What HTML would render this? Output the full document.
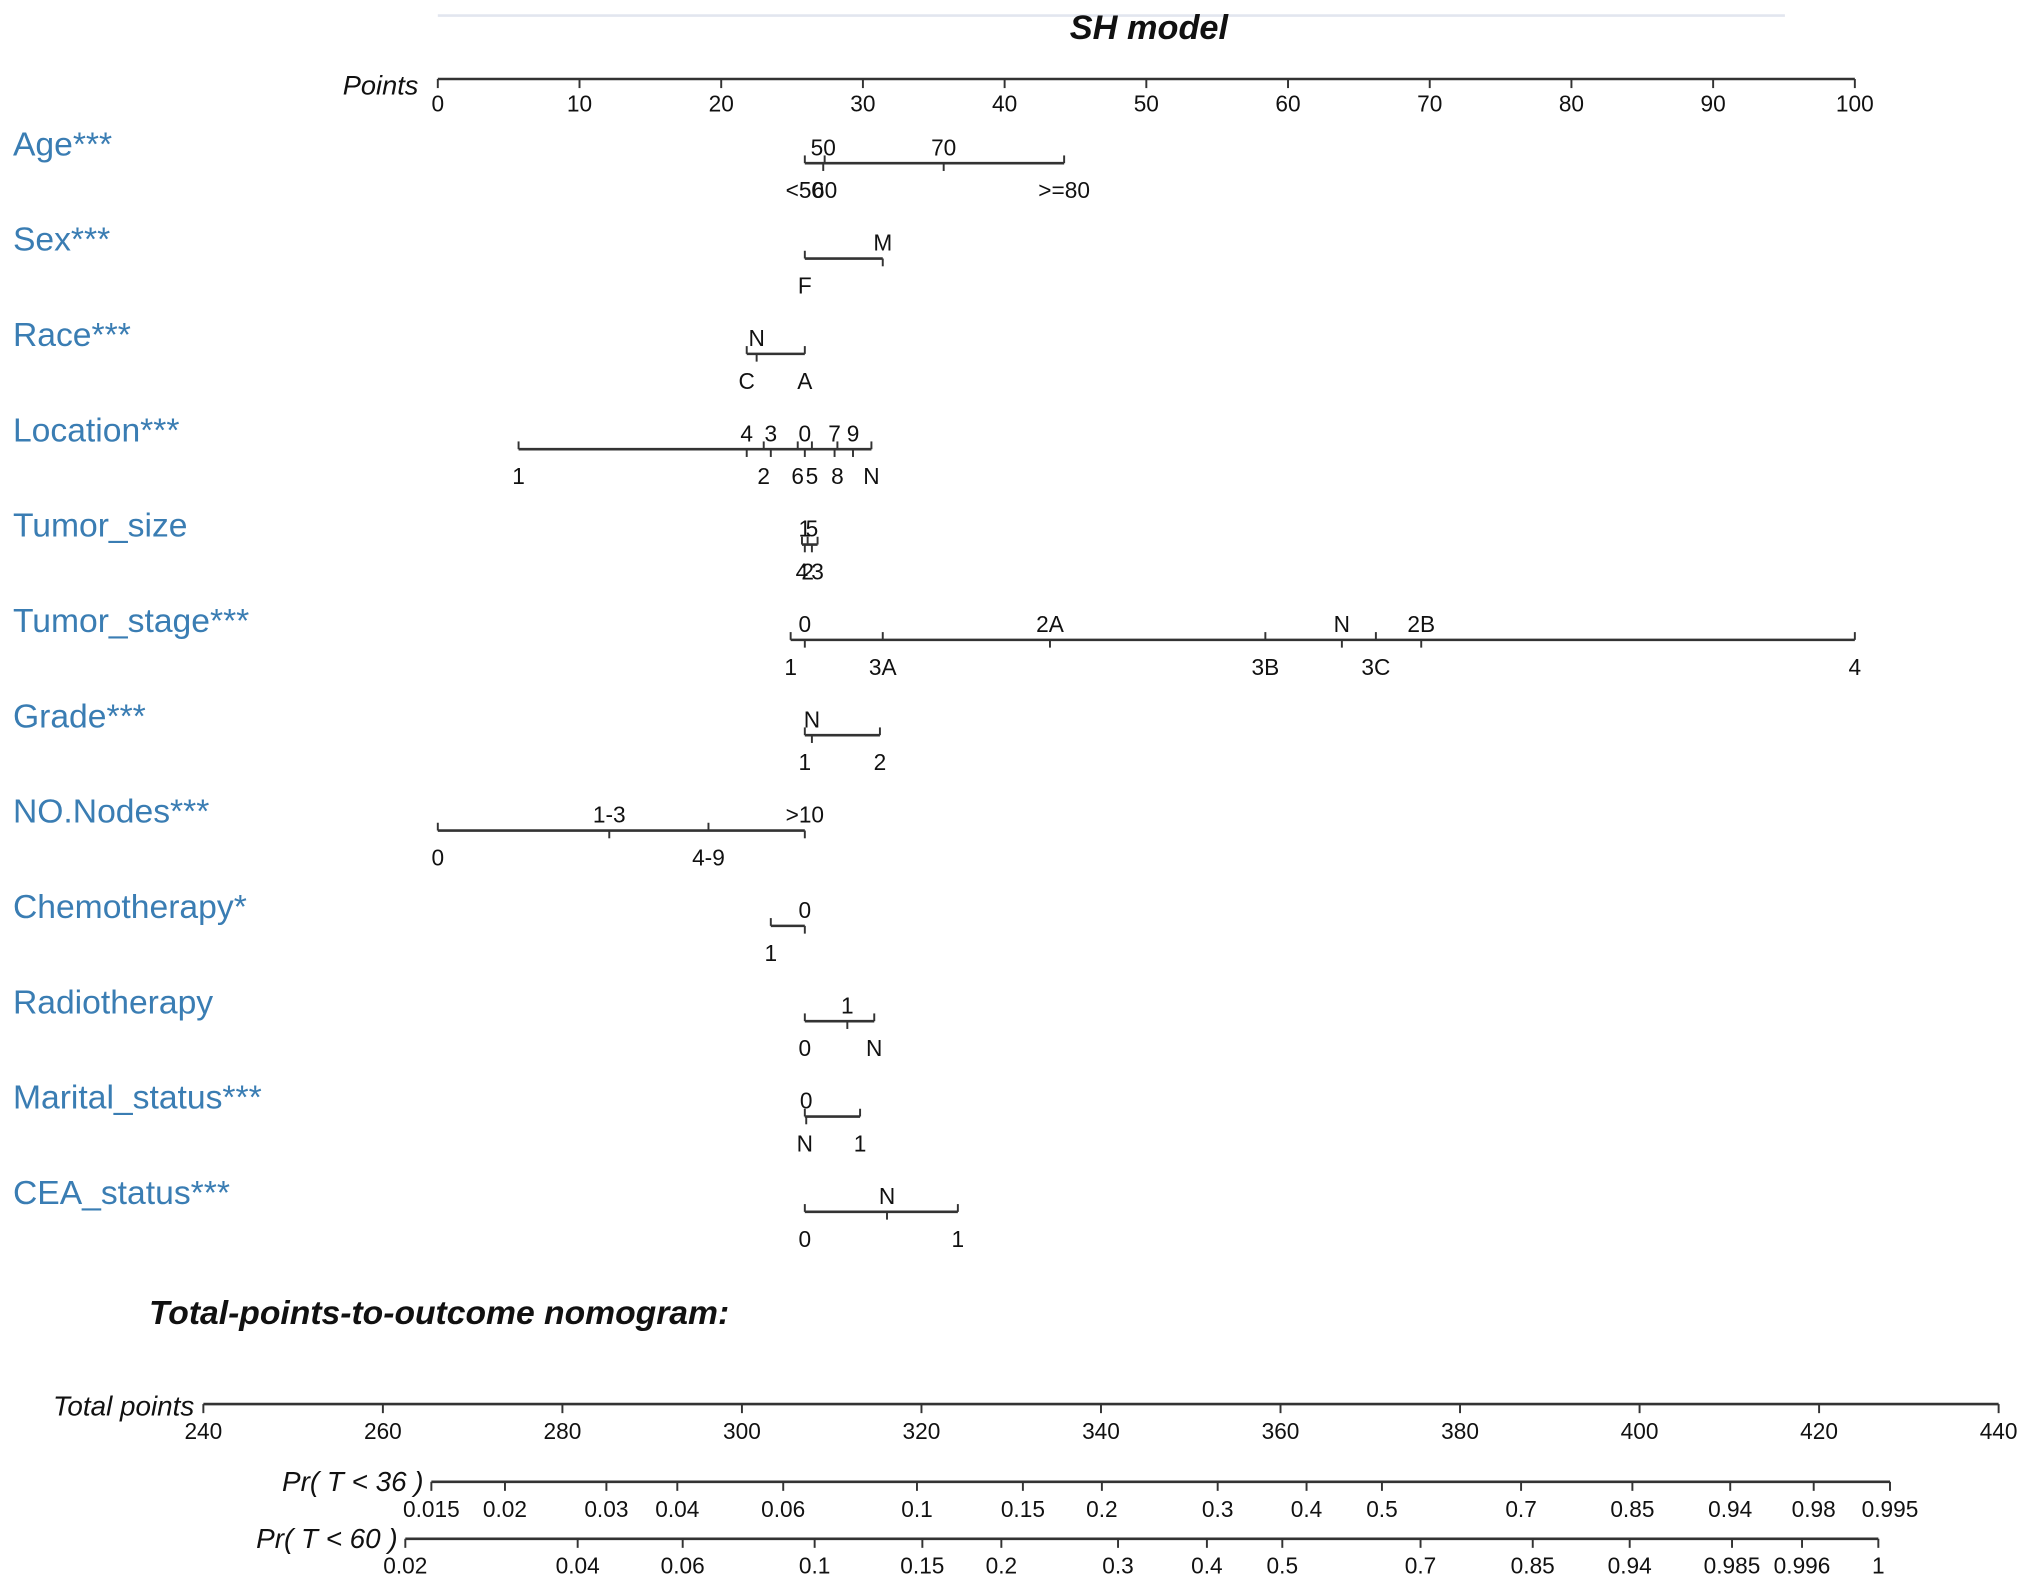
<!DOCTYPE html>
<html><head><meta charset="utf-8"><style>
html,body{margin:0;padding:0;background:#fff;}
svg{display:block;}
text{font-family:"Liberation Sans",Arial,sans-serif;}
</style></head><body>
<svg id="chart" width="2031" height="1588" viewBox="0 0 1568 1226" preserveAspectRatio="none" xmlns="http://www.w3.org/2000/svg">
<line x1="338" y1="12" x2="1378" y2="12" stroke="#e2e6ef" stroke-width="2"/>
<text x="887" y="30" text-anchor="middle" font-size="26.5" font-weight="bold" font-style="italic" fill="#111">SH model</text>
<text x="323" y="73" text-anchor="end" font-size="21" font-style="italic" fill="#111">Points</text>
<text x="115" y="1022" font-size="26" font-weight="bold" font-style="italic" fill="#111">Total-points-to-outcome nomogram:</text>
<text x="150" y="1093" text-anchor="end" font-size="21.5" font-style="italic" fill="#111">Total points</text>
<text x="327" y="1151" text-anchor="end" font-size="21.5" font-style="italic" fill="#111">Pr( T &lt; 36 )</text>
<text x="307" y="1195" text-anchor="end" font-size="21.5" font-style="italic" fill="#111">Pr( T &lt; 60 )</text>
<g id="g"></g>
</svg>
<script>
// Points scale
const pointTicks = [0,10,20,30,40,50,60,70,80,90,100];
const varNames = ["Age***","Sex***","Race***","Location***","Tumor_size","Tumor_stage***","Grade***","NO.Nodes***","Chemotherapy*","Radiotherapy","Marital_status***","CEA_status***"];
const ageLabels = ["<50","50","60","70",">=80"];
const agePoints = [25.9,27.2,27.3,35.7,44.2];
const ageAbove = [0,1,0,1,0];
const sexLabels = ["F","M"];
const sexPoints = [25.9,31.4];
const sexAbove = [0,1];
const raceLabels = ["C","N","A"];
const racePoints = [21.8,22.5,25.9];
const raceAbove = [0,1,0];
const locLabels = ["1","4","2","3","6","0","5","7","8","9","N"];
const locPoints = [5.7,21.8,23.0,23.5,25.4,25.9,26.4,28.0,28.2,29.3,30.6];
const locAbove = [0,1,0,1,0,1,0,1,0,1,0];
const sizeLabels = ["4","1","2","5","3"];
const sizePoints = [25.7,25.9,26.1,26.4,26.8];
const sizeAbove = [0,1,0,1,0];
const stageLabels = ["1","0","3A","2A","3B","N","3C","2B","4"];
const stagePoints = [24.9,25.9,31.4,43.2,58.4,63.8,66.2,69.4,100];
const stageAbove = [0,1,0,1,0,1,0,1,0];
const gradeLabels = ["1","N","2"];
const gradePoints = [25.9,26.4,31.2];
const gradeAbove = [0,1,0];
const nodeLabels = ["0","1-3","4-9",">10"];
const nodePoints = [0,12.1,19.1,25.9];
const nodeAbove = [0,1,0,1];
const chemoLabels = ["1","0"];
const chemoPoints = [23.5,25.9];
const chemoAbove = [0,1];
const radioLabels = ["0","1","N"];
const radioPoints = [25.9,28.9,30.8];
const radioAbove = [0,1,0];
const maritalLabels = ["N","0","1"];
const maritalPoints = [25.9,26.0,29.8];
const maritalAbove = [0,1,0];
const ceaLabels = ["0","N","1"];
const ceaPoints = [25.9,31.7,36.7];
const ceaAbove = [0,1,0];
// Total points scale
const totalTicks = [240,260,280,300,320,340,360,380,400,420,440];
const pr36Labels = ["0.015","0.02","0.03","0.04","0.06","0.1","0.15","0.2","0.3","0.4","0.5","0.7","0.85","0.94","0.98","0.995"];
const pr36Total = [265.4,273.6,284.9,292.8,304.6,319.5,331.3,340.1,353.0,362.9,371.3,386.8,399.2,410.1,419.4,427.9];
const pr60Labels = ["0.02","0.04","0.06","0.1","0.15","0.2","0.3","0.4","0.5","0.7","0.85","0.94","0.985","0.996","1"];
const pr60Total = [262.5,281.7,293.4,308.1,320.1,328.9,341.9,351.8,360.2,375.6,388.1,398.9,410.3,418.1,426.6];

const xP = p => 338 + p*(1432-338)/100;
const xT = t => 157 + (t-240)*(1543-157)/200;
const NS="http://www.w3.org/2000/svg";
const g=document.getElementById('g');
function el(tag,attrs){const e=document.createElementNS(NS,tag);for(const k in attrs)e.setAttribute(k,attrs[k]);g.appendChild(e);return e;}
function txt(x,y,s,size,anchor,fill){const t=el('text',{x:x,y:y,'font-size':size,'text-anchor':anchor||'middle',fill:fill||'#111'});t.textContent=s;return t;}

let a=el('line',{x1:xP(0),y1:61,x2:xP(100),y2:61,stroke:'#333','stroke-width':2});


pointTicks.forEach(v=>{
  const tk=el('line',{x1:xP(v),y1:61,x2:xP(v),y2:68,stroke:'#333','stroke-width':1.5});
  
  
  const tl=txt(xP(v),86,String(v),17.5);
  
  
});

const rows=[[ageLabels,agePoints,ageAbove],[sexLabels,sexPoints,sexAbove],[raceLabels,racePoints,raceAbove],[locLabels,locPoints,locAbove],[sizeLabels,sizePoints,sizeAbove],[stageLabels,stagePoints,stageAbove],[gradeLabels,gradePoints,gradeAbove],[nodeLabels,nodePoints,nodeAbove],[chemoLabels,chemoPoints,chemoAbove],[radioLabels,radioPoints,radioAbove],[maritalLabels,maritalPoints,maritalAbove],[ceaLabels,ceaPoints,ceaAbove]];
rows.forEach((r,i)=>{
  const y=126+i*73.6;
  const nm=txt(10,y-6,varNames[i],26,'start','#3a7db3');
  
  
  const [labs,pts,ab]=r;
  const mn=Math.min(...pts),mx=Math.max(...pts);
  const ln=el('line',{x1:xP(mn),y1:y,x2:xP(mx),y2:y,stroke:'#333','stroke-width':2});
  
  
  labs.forEach((s,j)=>{
    const x=xP(pts[j]);
    const up=ab[j]===1;
    const tk=el('line',{x1:x,y1:y,x2:x,y2:up?y+6:y-6,stroke:'#333','stroke-width':1.5});
    
    
    const tl=txt(x,up?y-6:y+27,s,17.5);
    
    
  });
});

let b=el('line',{x1:xT(240),y1:1084,x2:xT(440),y2:1084,stroke:'#333','stroke-width':2});


totalTicks.forEach(v=>{
  const tk=el('line',{x1:xT(v),y1:1084,x2:xT(v),y2:1091,stroke:'#333','stroke-width':1.5});
  
  
  const tl=txt(xT(v),1111,String(v),17.5);
  
  
});
function probAxis(labels,tots,y,nm){
  const l=el('line',{x1:xT(Math.min(...tots)),y1:y,x2:xT(Math.max(...tots)),y2:y,stroke:'#333','stroke-width':2});
  
  
  labels.forEach((s,j)=>{
    const x=xT(tots[j]);
    const tk=el('line',{x1:x,y1:y,x2:x,y2:y+7,stroke:'#333','stroke-width':1.5});
    
    
    const tl=txt(x,y+27,s,17.5);
    
    
  });
}
probAxis(pr36Labels,pr36Total,1144,'pr36');
probAxis(pr60Labels,pr60Total,1188,'pr60');
</script>
</body></html>
